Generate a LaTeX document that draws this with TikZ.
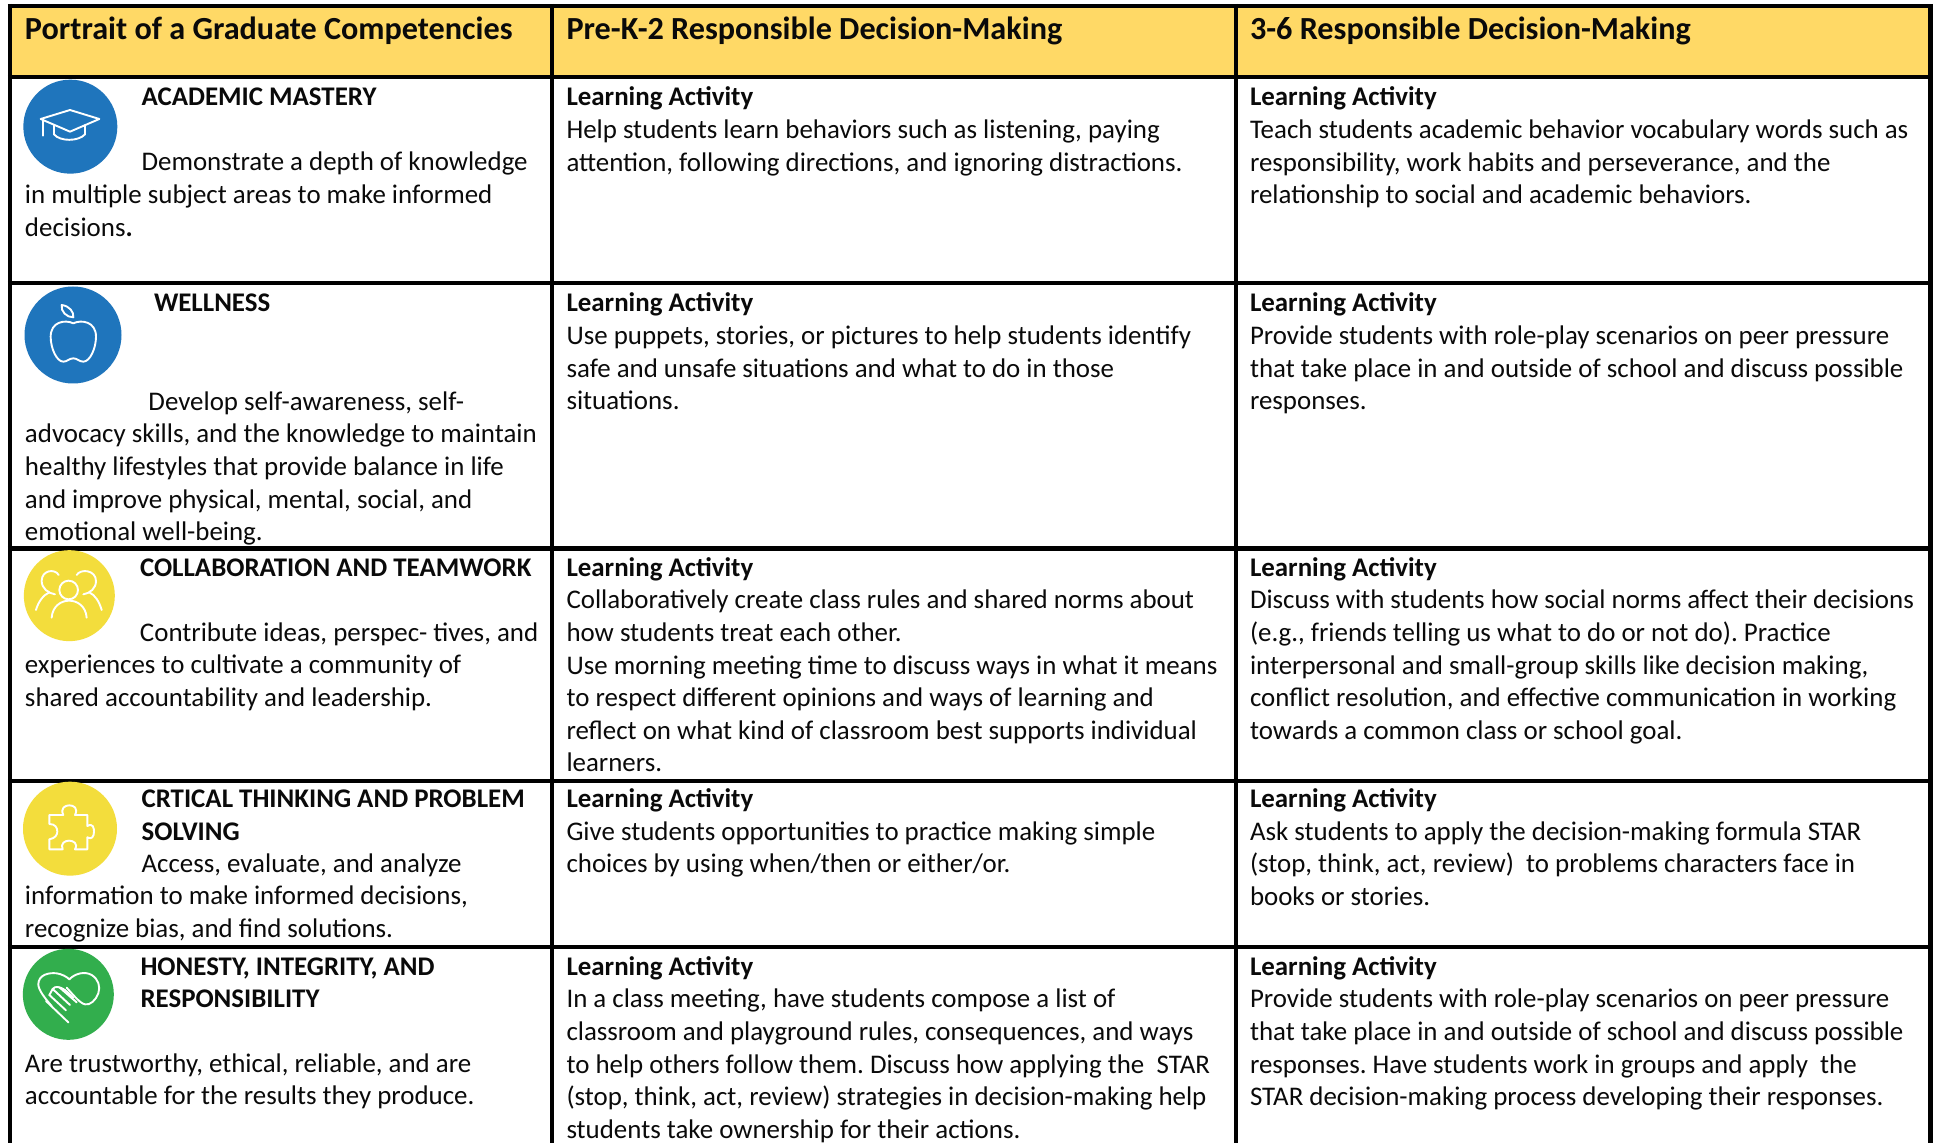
\documentclass[tikz,border=0pt]{standalone}
\usepackage{fontspec}
\setmainfont{Carlito}
\frenchspacing
\definecolor{headyellow}{HTML}{FFD966}
\definecolor{iconblue}{HTML}{1F75BC}
\definecolor{iconyellow}{HTML}{F3DD3C}
\definecolor{icongreen}{HTML}{32AE4D}
\definecolor{inktext}{HTML}{0A0A0A}
\newcommand{\bodyf}{\frenchspacing\fontsize{13.45}{16.3}\selectfont}
\newcommand{\headf}{\fontsize{16.1}{19}\selectfont\bfseries}
\newcommand{\cellt}[4]{\node[celltext] (#1) at (#2,#3) {\strut #4};}
\newcommand{\LA}{\textbf{Learning Activity}}
\tikzset{
  celltext/.style={anchor=north west,inner sep=0pt,outer sep=0pt,align=left,yshift=10.8pt,font=\bodyf,text=inktext},
  headtext/.style={anchor=base west,inner sep=0pt,outer sep=0pt,font=\headf,text=inktext},
  rule/.style={line width=2.2pt,black},
  iconcirc/.style={circle,inner sep=0pt,outer sep=0pt,draw=none},
  iconline/.style={draw=white,line width=.95pt,line cap=round,line join=round},
  iconarea/.style={x=.16667pt,y=-.16667pt}
}
\begin{document}
\begin{tikzpicture}[x=.5pt,y=-.5pt]
\useasboundingbox[fill=white] (0,0) rectangle (1933,1143);
% header band
\fill[headyellow] (10,6) rectangle (1931,77);
% table rules
\draw[rule] (7.8,6) -- (1933,6);
\draw[rule] (7.8,77) -- (1933,77);
\draw[rule] (7.8,283) -- (1933,283);
\draw[rule] (7.8,548.5) -- (1933,548.5);
\draw[rule] (7.8,781) -- (1933,781);
\draw[rule] (7.8,947) -- (1933,947);
\draw[rule] (10,4) -- (10,1143);
\draw[rule] (552,4) -- (552,1143);
\draw[rule] (1236,4) -- (1236,1143);
\draw[rule] (1930.5,4) -- (1930.5,1143);
% header
\node[headtext] (h1) at (25,39.5) {Portrait of a Graduate Competencies};
\node[headtext] (h2) at (566.5,39.5) {Pre-K-2 Responsible Decision-Making};
\node[headtext] (h3) at (1250,39.5) {3-6 Responsible Decision-Making};
% row 1
\cellt{a1}{141.6}{104.6}{\textbf{ACADEMIC MASTERY}}
\cellt{a2}{25}{169.6}{\hspace*{58.3pt}Demonstrate a depth of knowledge\\in multiple subject areas to make informed\\decisions\textbf{.}}
\cellt{a3}{566.5}{104.6}{\LA\\Help students learn behaviors such as listening, paying\\attention, following directions, and ignoring distractions.}
\cellt{a4}{1250}{104.6}{\LA\\Teach students academic behavior vocabulary words such as\\responsibility, work habits and perseverance, and the\\relationship to social and academic behaviors.}
% row 2
\cellt{b1}{154}{310.7}{\textbf{WELLNESS}}
\cellt{b2}{25}{409}{\hspace*{61.75pt}Develop self-awareness, self-\\advocacy skills, and the knowledge to maintain\\healthy lifestyles that provide balance in life\\and improve physical, mental, social, and\\emotional well-being.}
\cellt{b3}{566.5}{310.7}{\LA\\Use puppets, stories, or pictures to help students identify\\safe and unsafe situations and what to do in those\\situations.}
\cellt{b4}{1250}{310.7}{\LA\\Provide students with role-play scenarios on peer pressure\\that take place in and outside of school and discuss possible\\responses.}
% row 3
\cellt{c1}{140}{575}{\textbf{COLLABORATION AND TEAMWORK}}
\cellt{c2}{25}{640}{\hspace*{57.5pt}Contribute ideas, perspec- tives, and\\experiences to cultivate a community of\\shared accountability and leadership.}
\cellt{c3}{566.5}{575}{\LA\\Collaboratively create class rules and shared norms about\\how students treat each other.\\Use morning meeting time to discuss ways in what it means\\to respect different opinions and ways of learning and\\reflect on what kind of classroom best supports individual\\learners.}
\cellt{c4}{1250}{575}{\LA\\Discuss with students how social norms affect their decisions\\(e.g., friends telling us what to do or not do). Practice\\interpersonal and small-group skills like decision making,\\conflict resolution, and effective communication in working\\towards a common class or school goal.}
% row 4
\cellt{d1}{141.6}{806.5}{\textbf{CRTICAL THINKING AND PROBLEM}\\\textbf{SOLVING}}
\cellt{d2}{25}{871}{\hspace*{58.3pt}Access, evaluate, and analyze\\information to make informed decisions,\\recognize bias, and find solutions.}
\cellt{d3}{566.5}{806.5}{\LA\\Give students opportunities to practice making simple\\choices by using when/then or either/or.}
\cellt{d4}{1250}{806.5}{\LA\\Ask students to apply the decision-making formula STAR\\(stop, think, act, review)\ \ to problems characters face in\\books or stories.}
% row 5
\cellt{e1}{140.5}{974}{\textbf{HONESTY, INTEGRITY, AND}\\\textbf{RESPONSIBILITY}}
\cellt{e2}{25}{1071}{Are trustworthy, ethical, reliable, and are\\accountable for the results they produce.}
\cellt{e3}{566.5}{974}{\LA\\In a class meeting, have students compose a list of\\classroom and playground rules, consequences, and ways\\to help others follow them. Discuss how applying the\ \ STAR\\(stop, think, act, review) strategies in decision-making help\\students take ownership for their actions.}
\cellt{e4}{1250}{974}{\LA\\Provide students with role-play scenarios on peer pressure\\that take place in and outside of school and discuss possible\\responses. Have students work in groups and apply\ \ the\\STAR decision-making process developing their responses.}
% icon: mortarboard
\begin{scope}[xshift=5pt,yshift=-37.5pt,iconarea]
\node[iconcirc,fill=iconblue,minimum size=47pt] (ic1) at (181,155) {};
\draw[iconline] (180,105) -- (268,132) -- (180,170) -- (92,132) -- cycle;
\draw[iconline] (100,136) -- (100,182);
\draw[iconline] (132,150) -- (132,178) .. controls (150,200) and (205,200) .. (225,178) -- (225,150);
\end{scope}
% icon: apple
\begin{scope}[xshift=5pt,yshift=-140pt,iconarea]
\node[iconcirc,fill=iconblue,minimum size=48.5pt] (ic2) at (189,165) {};
\draw[iconline] (190,130) .. controls (165,118) and (122,125) .. (122,170) .. controls (122,205) and (140,245) .. (160,245) .. controls (172,245) and (178,235) .. (190,235) .. controls (202,235) and (208,245) .. (220,245) .. controls (240,245) and (258,205) .. (258,170) .. controls (258,125) and (215,118) .. (190,130) -- cycle;
\draw[iconline] (155,75) .. controls (178,78) and (192,95) .. (190,112) .. controls (170,112) and (152,95) .. (155,75) -- cycle;
\end{scope}
% icon: people
\begin{scope}[xshift=5pt,yshift=-272.5pt,iconarea]
\node[iconcirc,fill=iconyellow,minimum size=45.5pt] (ic3) at (178,152) {};
\draw[iconline] (176,135) circle [radius=28];
\draw[iconline] (125,218) .. controls (130,150) and (225,150) .. (230,218);
\draw[iconline] (146,90) .. controls (135,70) and (95,75) .. (95,108) .. controls (95,130) and (115,145) .. (135,148);
\draw[iconline] (78,195) .. controls (85,170) and (100,150) .. (118,142);
\draw[iconline] (200,90) .. controls (212,70) and (258,75) .. (258,108) .. controls (258,130) and (240,145) .. (220,148);
\draw[iconline] (275,195) .. controls (268,170) and (255,150) .. (238,142);
\end{scope}
% icon: puzzle piece
\begin{scope}[xshift=5pt,yshift=-390pt,iconarea]
\node[iconcirc,fill=iconyellow,minimum size=47pt] (ic4) at (180,146) {};
\draw[iconline] (118,105) -- (160,105) .. controls (150,85) and (165,76) .. (178,76) .. controls (192,76) and (205,85) .. (195,105) -- (232,105) -- (232,138) .. controls (250,128) and (252,145) .. (252,155) .. controls (252,170) and (245,180) .. (232,172) -- (232,208) -- (195,208) .. controls (205,190) and (190,182) .. (177,182) .. controls (165,182) and (150,190) .. (158,208) -- (118,208) -- (118,178) .. controls (135,175) and (142,165) .. (142,155) .. controls (142,142) and (135,132) .. (118,132) -- cycle;
\end{scope}
% icon: heart and hand
\begin{scope}[xshift=5pt,yshift=-472.5pt,iconarea]
\node[iconcirc,fill=icongreen,minimum size=45.5pt] (ic5) at (175,148) {};
\draw[iconline] (125,183) .. controls (105,160) and (85,135) .. (85,118) .. controls (85,90) and (115,82) .. (140,85) .. controls (155,87) and (170,95) .. (178,103) .. controls (195,85) and (225,78) .. (245,90) .. controls (265,102) and (272,125) .. (265,145) .. controls (258,165) and (240,182) .. (225,178) .. controls (210,175) and (190,150) .. (170,128);
\draw[iconline] (108,168) -- (175,232);
\draw[iconline] (128,132) .. controls (135,122) and (150,125) .. (165,135) -- (190,158);
\draw[iconline] (148,127) -- (200,172);
\draw[iconline] (128,132) -- (180,180);
\draw[iconline] (118,150) -- (168,196);
\draw[iconline] (118,150) -- (128,132);
\end{scope}
\end{tikzpicture}
\end{document}
